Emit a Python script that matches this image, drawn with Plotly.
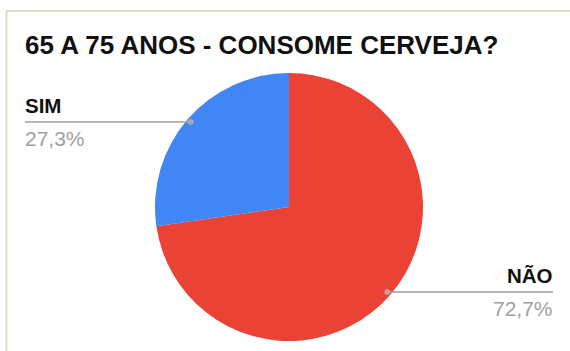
import math
import plotly.graph_objects as go

# Survey answers for the 65-75 age group
categories = ["NÃO", "SIM"]
shares = [72.7, 27.3]
share_labels = ["72,7%", "27,3%"]
colors = ["#EA4335", "#4285F4"]
title_text = "65 A 75 ANOS - CONSOME CERVEJA?"

W, H = 570, 351
# pie geometry in pixels
cx, cy, r = 289, 207, 134


def px(x):
    return x / W


def py(y):
    return 1 - y / H


fig = go.Figure(
    go.Pie(
        labels=categories,
        values=shares,
        sort=False,
        direction="clockwise",
        rotation=0,
        marker=dict(colors=colors, line=dict(width=0)),
        textinfo="none",
        hoverinfo="skip",
        showlegend=False,
        domain=dict(x=[px(cx - r), px(cx + r)], y=[py(cy + r), py(cy - r)]),
    )
)

shapes = []
annotations = []

# leader lines and labels placed at each slice's mid-angle
total = sum(shares)
start = 0.0
label_font = "Liberation Sans, Arial, sans-serif"
for cat, val, lab in zip(categories, shares, share_labels):
    frac = val / total
    mid = (start + frac / 2) * 2 * math.pi  # clockwise from 12 o'clock
    start += frac
    d = r - 4
    dx = cx + d * math.sin(mid)
    dy = cy - d * math.cos(mid)
    if math.sin(mid) >= 0:
        end_x = 553
        anchor = "right"
    else:
        end_x = 25
        anchor = "left"
    shapes.append(dict(type="line", xref="paper", yref="paper",
                       x0=px(dx), y0=py(dy), x1=px(end_x), y1=py(dy),
                       line=dict(color="#9e9e9e", width=1.5)))
    shapes.append(dict(type="circle", xref="paper", yref="paper",
                       x0=px(dx - 2.5), y0=py(dy - 2.5), x1=px(dx + 2.5), y1=py(dy + 2.5),
                       fillcolor="#a8a8a8", line=dict(color="#c8c8c8", width=0.5)))
    annotations.append(dict(text="<b>%s</b>" % cat, xref="paper", yref="paper",
                            x=px(end_x), y=py(dy - 3), xanchor=anchor, yanchor="bottom",
                            showarrow=False, xshift=(2 if anchor == "right" else -2),
                            font=dict(family=label_font, size=20.5, color="#111111")))
    annotations.append(dict(text=lab, xref="paper", yref="paper",
                            x=px(end_x), y=py(dy + 3), xanchor=anchor, yanchor="top",
                            showarrow=False, xshift=(2 if anchor == "right" else -2),
                            font=dict(family=label_font, size=21, color="#a0a0a0")))

# frame edges along the top and left
shapes.append(dict(type="line", xref="paper", yref="paper",
                   x0=px(6), y0=py(11), x1=1, y1=py(11),
                   line=dict(color="#e0dcc6", width=2)))
shapes.append(dict(type="line", xref="paper", yref="paper",
                   x0=px(6.5), y0=py(11), x1=px(6.5), y1=0,
                   line=dict(color="#e0dcc6", width=2)))

fig.update_layout(
    width=W,
    height=H,
    margin=dict(l=0, r=0, t=0, b=0),
    paper_bgcolor="white",
    plot_bgcolor="white",
    title=dict(text="<b>%s</b>" % title_text, x=px(25), xanchor="left",
               y=py(45), yanchor="middle", xref="paper", yref="paper",
               font=dict(family=label_font, size=26, color="#111111")),
    shapes=shapes,
    annotations=annotations,
)

fig.write_html("out.html")
